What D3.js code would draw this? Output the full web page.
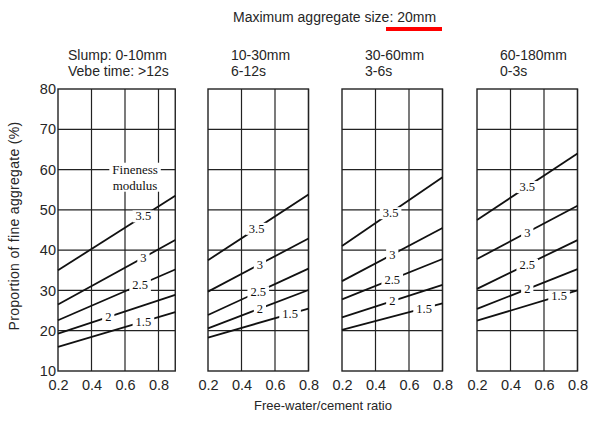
<!DOCTYPE html>
<html>
<head>
<meta charset="utf-8">
<script src="https://cdn.jsdelivr.net/npm/d3@7"></script>
<style>
  body { margin: 0; background: #fff; }
  svg { display: block; }
  .sans { font-family: "Liberation Sans", Arial, sans-serif; fill: #262626; }
  .serif { font-family: "Liberation Serif", "Times New Roman", serif; fill: #111; }
</style>
</head>
<body>
<svg width="589" height="433"></svg>
<script>
"use strict";

// panel headings
var slumpLabels = ["Slump: 0-10mm", "10-30mm", "30-60mm", "60-180mm"];
var vebeLabels = ["Vebe time: >12s", "6-12s", "3-6s", "0-3s"];
// right end of each panel's w/c axis
var xMax = [0.9, 0.8, 0.8, 0.8];

var moduli = ["3.5", "3", "2.5", "2", "1.5"];
// proportion of fine aggregate (%) at w/c = 0.2 and at the right edge
var startValues = [
  [35, 26.5, 22.6, 19.3, 16],
  [37.5, 29.7, 23.9, 20.6, 18.3],
  [41, 32.3, 27.8, 23.3, 20.2],
  [47.5, 37.8, 30.4, 25.4, 22.5]
];
var endValues = [
  [53.5, 42.5, 35.2, 28.9, 24.6],
  [53.8, 42.9, 35.4, 30.1, 25.5],
  [58.1, 45.5, 37.8, 31.4, 26.8],
  [64, 51, 42.5, 35.3, 30]
];
// w/c where each curve label sits
var labelAt = [
  [0.71, 0.71, 0.69, 0.5, 0.71],
  [0.49, 0.51, 0.5, 0.51, 0.69],
  [0.49, 0.5, 0.5, 0.5, 0.69],
  [0.5, 0.5, 0.5, 0.5, 0.69]
];

var xTicks = [0.2, 0.4, 0.6, 0.8];
var yTicks = [10, 20, 30, 40, 50, 60, 70, 80];

var svg = d3.select("svg");
var panelLeft = [58, 208, 342, 477];
var pxPerUnit = 167.5;
var plotTop = 89, plotBottom = 371;

var y = d3.scaleLinear().domain([10, 80]).range([plotBottom, plotTop]);

// title
var title = svg.append("text").attr("class", "sans")
  .attr("x", 233).attr("y", 22).style("font-size", "14px");
title.append("tspan").text("Maximum aggregate size: ");
title.append("tspan").text("20mm");
svg.append("rect").attr("x", 386).attr("y", 27).attr("width", 56).attr("height", 4).attr("fill", "#f00");

// axis titles
svg.append("text").attr("class", "sans")
  .attr("transform", "translate(19,226) rotate(-90)")
  .attr("text-anchor", "middle").style("font-size", "14px")
  .style("letter-spacing", "0.3px")
  .text("Proportion of fine aggregate (%)");
svg.append("text").attr("class", "sans")
  .attr("x", 323).attr("y", 410).attr("text-anchor", "middle")
  .style("font-size", "13px").text("Free-water/cement ratio");

function labelWithBox(g, x0, y0, lines, cls, size, lineH) {
  var grp = g.append("g");
  var bg = grp.append("rect").attr("fill", "#fff");
  var t = grp.append("text").attr("class", cls).attr("text-anchor", "middle")
    .style("font-size", size + "px");
  lines.forEach(function (s, i) {
    t.append("tspan").attr("x", x0).attr("y", y0 + i * lineH + size * 0.35).text(s);
  });
  var b = t.node().getBBox();
  bg.attr("x", b.x - 3).attr("y", b.y + 1).attr("width", b.width + 6).attr("height", b.height - 2);
}

slumpLabels.forEach(function (slump, p) {
  var x = d3.scaleLinear().domain([0.2, xMax[p]])
    .range([panelLeft[p], panelLeft[p] + (xMax[p] - 0.2) * pxPerUnit]);
  var g = svg.append("g");

  // headings
  g.append("text").attr("class", "sans").attr("x", panelLeft[p] + (p === 0 ? 10 : 23))
    .attr("y", 60).style("font-size", "14px").text(slump);
  g.append("text").attr("class", "sans").attr("x", panelLeft[p] + (p === 0 ? 10 : 23))
    .attr("y", 76).style("font-size", "14px").text(vebeLabels[p]);

  // grid
  g.selectAll(".vg").data(xTicks.slice(1)).enter().append("line")
    .attr("x1", function (d) { return x(d); }).attr("x2", function (d) { return x(d); })
    .attr("y1", plotTop).attr("y2", plotBottom)
    .attr("stroke", "#222").attr("stroke-width", 1.2);
  g.selectAll(".hg").data(yTicks.slice(1, -1)).enter().append("line")
    .attr("x1", x.range()[0]).attr("x2", x.range()[1])
    .attr("y1", function (d) { return y(d); }).attr("y2", function (d) { return y(d); })
    .attr("stroke", "#222").attr("stroke-width", 1.2);
  g.append("rect").attr("x", x.range()[0]).attr("y", plotTop)
    .attr("width", x.range()[1] - x.range()[0]).attr("height", plotBottom - plotTop)
    .attr("fill", "none").attr("stroke", "#222").attr("stroke-width", 1.4);

  // axes (labels only)
  var xa = g.append("g").attr("transform", "translate(0," + plotBottom + ")")
    .call(d3.axisBottom(x).tickValues(xTicks).tickSize(0).tickPadding(9).tickFormat(d3.format(".1f")));
  xa.select(".domain").remove();
  xa.selectAll("text").attr("class", "sans").style("font-size", "14.5px").attr("font-family", null);
  if (p === 0) {
    var ya = g.append("g").attr("transform", "translate(" + x.range()[0] + ",0)")
      .call(d3.axisLeft(y).tickValues(yTicks).tickSize(0).tickPadding(2));
    ya.select(".domain").remove();
    ya.selectAll("text").attr("class", "sans").style("font-size", "14.5px").attr("font-family", null);
  }

  // fineness modulus curves
  var line = d3.line().x(function (d) { return x(d[0]); }).y(function (d) { return y(d[1]); });
  moduli.forEach(function (m, i) {
    var pts = [[0.2, startValues[p][i]], [xMax[p], endValues[p][i]]];
    g.append("path").attr("d", line(pts)).attr("fill", "none")
      .attr("stroke", "#111").attr("stroke-width", 1.8);
  });
  moduli.forEach(function (m, i) {
    var lx = labelAt[p][i];
    var t = (lx - 0.2) / (xMax[p] - 0.2);
    var ly = startValues[p][i] + (endValues[p][i] - startValues[p][i]) * t;
    labelWithBox(g, x(lx), y(ly), [m], "serif", 12.5, 13);
  });
  if (p === 0) {
    labelWithBox(g, x(0.66), y(60.1), ["Fineness", "modulus"], "serif", 13, 16);
  }
});
</script>
</body>
</html>
